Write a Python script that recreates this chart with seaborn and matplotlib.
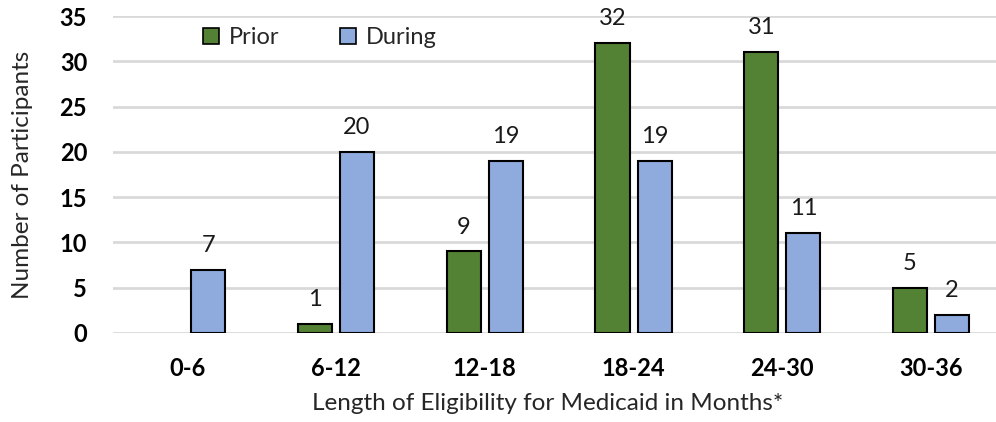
import matplotlib
matplotlib.use("Agg")
import matplotlib.pyplot as plt
import seaborn as sns
import pandas as pd
from matplotlib.patches import Patch

# Eligibility bins (months) and participant counts per period
bins = ["0-6", "6-12", "12-18", "18-24", "24-30", "30-36"]
prior = [0, 1, 9, 32, 31, 5]
during = [7, 20, 19, 19, 11, 2]
periods = ["Prior", "During"]
colors = {"Prior": "#548235", "During": "#8FAADC"}

df = pd.DataFrame({
    "bin": bins * 2,
    "count": prior + during,
    "period": ["Prior"] * len(bins) + ["During"] * len(bins),
})

sns.set_style("white")
plt.rcParams["font.family"] = ["Lato", "DejaVu Sans"]

W, H = 996, 422
fig = plt.figure(figsize=(W / 100, H / 100), dpi=100)
# plot area runs slightly past the right edge of the canvas
left_px, right_px, top_px, bottom_px = 112.9, 1005.4, 16, 333
ax = fig.add_axes([left_px / W, 1 - bottom_px / H,
                   (right_px - left_px) / W, (bottom_px - top_px) / H])

sns.barplot(data=df, x="bin", y="count", hue="period", hue_order=periods,
            palette=colors, order=bins, width=0.565, gap=0.19, saturation=1,
            edgecolor="black", linewidth=1.5, legend=False, ax=ax, zorder=3)

# value labels above each bar; empty bars are hidden and left unlabeled
for container in ax.containers:
    for patch, v in zip(container.patches, container.datavalues):
        if v <= 0:
            patch.set_visible(False)
    labels = [f"{int(v)}" if v > 0 else "" for v in container.datavalues]
    ax.bar_label(container, labels=labels, padding=10, fontsize=17, color="#1a1a1a")

ax.set_ylim(0, 35)
ax.set_yticks(range(0, 36, 5))
ax.set_xlim(-0.5, len(bins) - 0.5)
ax.yaxis.grid(True, color="#d9d9d9", linewidth=2, zorder=0)
ax.set_axisbelow(True)
for s in ax.spines.values():
    s.set_visible(False)
ax.tick_params(axis="both", length=0, labelsize=17, labelcolor="black")
ax.tick_params(axis="x", pad=17)
ax.tick_params(axis="y", pad=18.5)
for lbl in ax.get_xticklabels() + ax.get_yticklabels():
    lbl.set_fontweight("bold")

ax.set_xlabel("Length of Eligibility for Medicaid in Months*", fontsize=17.5,
              color="#262626")
ax.xaxis.set_label_coords(0.487, -0.189)
ax.set_ylabel("Number of Participants", fontsize=17.5, color="#262626")
ax.yaxis.set_label_coords(-0.0895, 0.5)

handles = [Patch(facecolor=colors[p], edgecolor="black", linewidth=1.2) for p in periods]
ax.legend(handles, periods, loc="upper left", bbox_to_anchor=(203 / W, 1 - 27.5 / H),
          bbox_transform=fig.transFigure, borderpad=0, borderaxespad=0,
          ncol=2, frameon=False, fontsize=17, handlelength=0.66, handleheight=0.66,
          handletextpad=0.42, columnspacing=2.6)

fig.savefig("out.png", dpi=100)
